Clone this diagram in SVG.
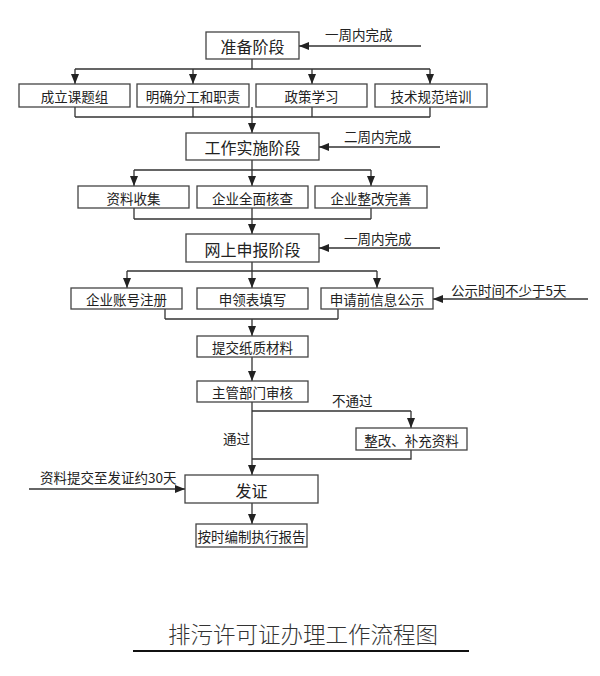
<svg xmlns="http://www.w3.org/2000/svg" width="600" height="676" viewBox="0 0 600 676">
<style>
.bx{fill:#fff;stroke:#444;stroke-width:1.3}
.t{font-family:"Noto Sans CJK SC","Noto Sans CJK JP",sans-serif;fill:#222;text-anchor:middle;dominant-baseline:central}
.big{font-size:16px}
.sm{font-size:13.5px}
.lb{font-family:"Noto Sans CJK SC","Noto Sans CJK JP",sans-serif;fill:#222;font-size:13.5px;dominant-baseline:central}
.c{fill:none;stroke:#333;stroke-width:1.3}
</style>
<defs>
<marker id="ah" markerUnits="userSpaceOnUse" markerWidth="10" markerHeight="10" viewBox="0 0 10 10" refX="10" refY="5" orient="auto">
<path d="M0,1 L10,5 L0,9 Z" fill="#222"/>
</marker>
</defs>
<rect width="600" height="676" fill="#fff"/>
<g id="connectors">
<path class="c" d="M252,59 V69 M75,69 H430 M75,117 H430 M75,107 V117 M193,107 V117 M312,107 V117 M430,107 V117"/>
<path class="c" marker-end="url(#ah)" d="M75,69 V84"/>
<path class="c" marker-end="url(#ah)" d="M193,69 V84"/>
<path class="c" marker-end="url(#ah)" d="M312,69 V84"/>
<path class="c" marker-end="url(#ah)" d="M430,69 V84"/>
<path class="c" marker-end="url(#ah)" d="M252,107 V133"/>
<path class="c" marker-end="url(#ah)" d="M421,46 H299"/>
<path class="c" d="M252,160 V170 M134,170 H371 M134,208 V219 M252,208 V219 M371,208 V219 M134,219 H371"/>
<path class="c" marker-end="url(#ah)" d="M134,170 V186"/>
<path class="c" marker-end="url(#ah)" d="M252,170 V186"/>
<path class="c" marker-end="url(#ah)" d="M371,170 V186"/>
<path class="c" marker-end="url(#ah)" d="M252,219 V234"/>
<path class="c" marker-end="url(#ah)" d="M440,147 H319"/>
<path class="c" d="M252,262 V271 M127,271 H377 M165,309 V319 M338,309 V319 M165,319 H338"/>
<path class="c" marker-end="url(#ah)" d="M127,271 V288"/>
<path class="c" marker-end="url(#ah)" d="M252,271 V288"/>
<path class="c" marker-end="url(#ah)" d="M377,271 V288"/>
<path class="c" marker-end="url(#ah)" d="M440,248 H319"/>
<path class="c" marker-end="url(#ah)" d="M588,299 H433"/>
<path class="c" marker-end="url(#ah)" d="M252,319 V336"/>
<path class="c" marker-end="url(#ah)" d="M252,357 V381"/>
<path class="c" d="M252,411 H411 M411,450 V459 H252"/>
<path class="c" marker-end="url(#ah)" d="M411,411 V428"/>
<path class="c" marker-end="url(#ah)" d="M252,402 V475"/>
<path class="c" marker-end="url(#ah)" d="M29,489 H185"/>
<path class="c" marker-end="url(#ah)" d="M252,503 V524"/>
</g>
<g id="n-prep"><rect class="bx" x="206" y="32" width="93" height="27"/><text class="t big" x="252.5" y="46">准备阶段</text></g>
<g id="n-group"><rect class="bx" x="19" y="84" width="111" height="23"/><text class="t sm" x="74.5" y="96">成立课题组</text></g>
<g id="n-duty"><rect class="bx" x="137" y="84" width="112" height="23"/><text class="t sm" x="193" y="96">明确分工和职责</text></g>
<g id="n-policy"><rect class="bx" x="256" y="84" width="111" height="23"/><text class="t sm" x="311.5" y="96">政策学习</text></g>
<g id="n-tech"><rect class="bx" x="375" y="84" width="112" height="23"/><text class="t sm" x="431" y="96">技术规范培训</text></g>
<g id="n-impl"><rect class="bx" x="186" y="133" width="133" height="27"/><text class="t big" x="252.5" y="147">工作实施阶段</text></g>
<g id="n-collect"><rect class="bx" x="78" y="186" width="111" height="22"/><text class="t sm" x="133.5" y="197.5">资料收集</text></g>
<g id="n-check"><rect class="bx" x="197" y="186" width="111" height="22"/><text class="t sm" x="252.5" y="197.5">企业全面核查</text></g>
<g id="n-fix"><rect class="bx" x="315" y="186" width="112" height="22"/><text class="t sm" x="371" y="197.5">企业整改完善</text></g>
<g id="n-online"><rect class="bx" x="186" y="234" width="133" height="28"/><text class="t big" x="252.5" y="248.5">网上申报阶段</text></g>
<g id="n-reg"><rect class="bx" x="71" y="288" width="111" height="21"/><text class="t sm" x="126.5" y="299">企业账号注册</text></g>
<g id="n-form"><rect class="bx" x="197" y="288" width="111" height="21"/><text class="t sm" x="252.5" y="299">申领表填写</text></g>
<g id="n-public"><rect class="bx" x="321" y="288" width="112" height="21"/><text class="t sm" x="377" y="299">申请前信息公示</text></g>
<g id="n-paper"><rect class="bx" x="197" y="336" width="111" height="21"/><text class="t sm" x="252.5" y="347">提交纸质材料</text></g>
<g id="n-review"><rect class="bx" x="197" y="381" width="111" height="21"/><text class="t sm" x="252.5" y="392">主管部门审核</text></g>
<g id="n-supp"><rect class="bx" x="356" y="428" width="111" height="22"/><text class="t sm" x="411.5" y="439.5">整改、补充资料</text></g>
<g id="n-issue"><rect class="bx" x="185" y="475" width="133" height="28"/><text class="t big" x="251.5" y="489.5">发证</text></g>
<g id="n-report"><rect class="bx" x="196" y="524" width="111" height="23"/><text class="t sm" x="251.5" y="536">按时编制执行报告</text></g>
<g id="labels">
<text class="lb" x="325" y="34">一周内完成</text>
<text class="lb" x="344" y="136">二周内完成</text>
<text class="lb" x="344" y="238">一周内完成</text>
<text class="lb" x="451" y="290">公示时间不少于5天</text>
<text class="lb" x="332" y="400">不通过</text>
<text class="lb" x="223" y="438">通过</text>
<text class="lb" x="40" y="477">资料提交至发证约30天</text>
</g>
<g id="title">
<text x="303" y="633" font-family="'Noto Sans CJK SC','Noto Sans CJK JP',sans-serif" font-size="22.5" font-weight="300" fill="#333" text-anchor="middle" dominant-baseline="central">排污许可证办理工作流程图</text>
<line x1="133" y1="651" x2="469" y2="651" stroke="#111" stroke-width="2"/>
</g>
</svg>
